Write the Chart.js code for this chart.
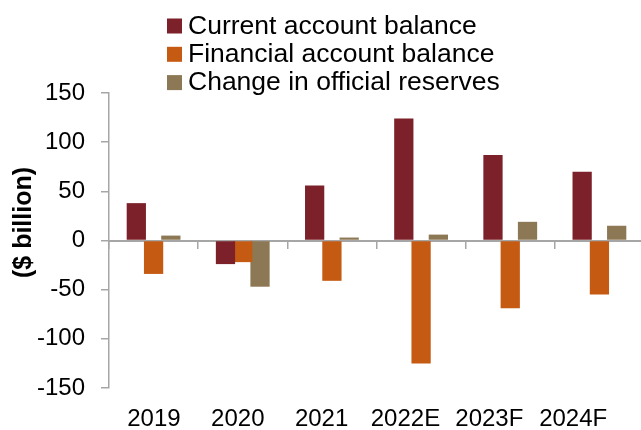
<!DOCTYPE html>
<html>
<head>
<meta charset="utf-8">
<script src="https://cdn.jsdelivr.net/npm/chart.js@4/dist/chart.umd.min.js"></script>
<style>
  html, body { margin: 0; padding: 0; overflow: hidden; background: #ffffff; }
  #wrap { position: relative; width: 644px; height: 430px; }
</style>
</head>
<body>
<div id="wrap"><canvas id="chart"></canvas></div>
<script>
// Balance of payments components, $ billion
const categories = ['2019', '2020', '2021', '2022E', '2023F', '2024F'];
const currentAccount = [38, -24, 56, 124, 87, 70];
const financialAccount = [-34, -22, -41, -125, -69, -55];
const reserveChange = [5, -47, 3, 6, 19, 15];

const seriesNames = ['Current account balance', 'Financial account balance', 'Change in official reserves'];
const seriesColors = ['#7C2129', '#C55A12', '#8C7854'];
const yAxisTitle = '($ billion)';

const AXIS_GREY = '#A6A6A6';
const FONT = '"Liberation Sans", Arial, Helvetica, sans-serif';
Chart.defaults.font.family = FONT;
Chart.defaults.color = '#000000';

// Legend stacked one entry per line above the plot
const stackedLegend = {
  id: 'stackedLegend',
  afterDraw(chart) {
    const ctx = chart.ctx;
    ctx.save();
    ctx.font = '26.5px ' + FONT;
    ctx.textBaseline = 'alphabetic';
    ctx.textAlign = 'left';
    chart.data.datasets.forEach((ds, i) => {
      const baseline = 33.5 + i * 28.3;
      ctx.fillStyle = ds.backgroundColor;
      ctx.fillRect(167, baseline - 15, 15, 15);
      ctx.fillStyle = '#000000';
      ctx.fillText(ds.label, 188, baseline);
    });
    ctx.restore();
  }
};

// Rotated value-axis title
const valueAxisTitle = {
  id: 'valueAxisTitle',
  afterDraw(chart) {
    const ctx = chart.ctx;
    ctx.save();
    ctx.translate(24, 222.5);
    ctx.rotate(-Math.PI / 2);
    ctx.font = 'bold 25px ' + FONT;
    ctx.fillStyle = '#000000';
    ctx.textAlign = 'center';
    ctx.textBaseline = 'middle';
    ctx.fillText(yAxisTitle, 0, 0);
    ctx.restore();
  }
};

new Chart(document.getElementById('chart'), {
  type: 'bar',
  data: {
    labels: categories,
    datasets: [
      { label: seriesNames[0], data: currentAccount, backgroundColor: seriesColors[0] },
      { label: seriesNames[1], data: financialAccount, backgroundColor: seriesColors[1] },
      { label: seriesNames[2], data: reserveChange, backgroundColor: seriesColors[2] }
    ]
  },
  options: {
    responsive: true,
    maintainAspectRatio: false,
    animation: false,
    layout: { padding: { top: 93, left: 0, right: 0, bottom: 0 } },
    // bars within a year overlap slightly
    datasets: { bar: { categoryPercentage: 0.581, barPercentage: 1.115 } },
    plugins: {
      legend: { display: false },
      tooltip: { enabled: false }
    },
    scales: {
      // category axis drawn along the zero line, with tick marks between years
      x: {
        type: 'category',
        position: { y: 0 },
        offset: true,
        grid: {
          display: true, offset: true, drawOnChartArea: false, drawTicks: true,
          tickLength: 7, color: AXIS_GREY, lineWidth: 1.5
        },
        border: { display: true, color: AXIS_GREY, width: 2 },
        ticks: { display: false }
      },
      // year labels along the bottom, one tick per year
      xl: {
        type: 'linear',
        position: 'bottom',
        bounds: 'data',
        offset: false,
        min: -0.536,
        max: 5.845,
        grid: { display: false, drawTicks: false, offset: false },
        border: { display: false },
        afterBuildTicks: (s) => { s.ticks = categories.map((_, i) => ({ value: i })); },
        ticks: {
          autoSkip: false, maxRotation: 0,
          padding: 17, font: { size: 24 }, color: '#000000',
          callback: (v) => categories[Math.round(v)]
        },
        afterFit: (s) => { s.height = 42; }
      },
      y: {
        min: -150,
        max: 150,
        ticks: { stepSize: 50, padding: 16, font: { size: 24 }, color: '#000000' },
        grid: { drawOnChartArea: false, drawTicks: true, tickLength: 8, color: AXIS_GREY, lineWidth: 1.5 },
        border: { display: true, color: AXIS_GREY, width: 1.5 },
        afterFit: (s) => { s.width = 109; }
      }
    }
  },
  plugins: [stackedLegend, valueAxisTitle]
});
</script>
</body>
</html>
